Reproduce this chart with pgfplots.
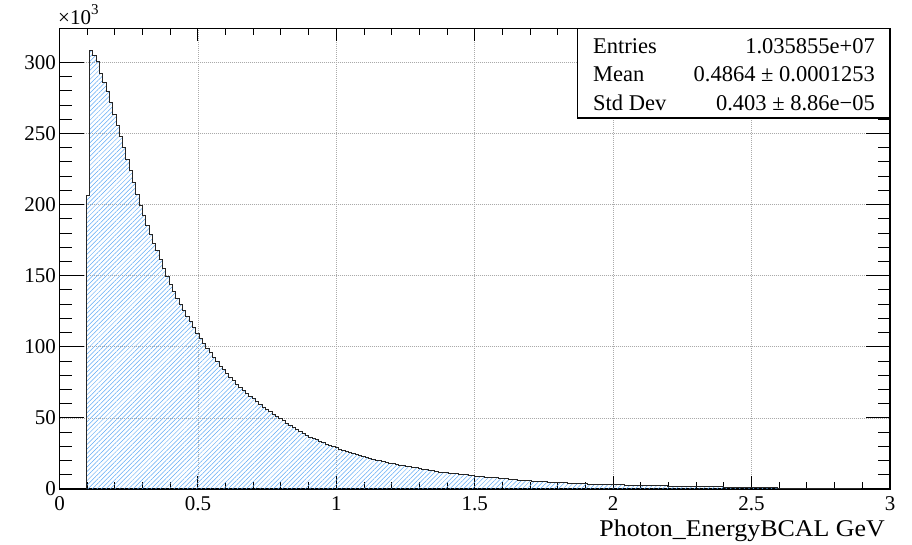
\documentclass[border=0pt]{standalone}
\usepackage{fontspec}
\setmainfont{Liberation Serif}
\usepackage{pgfplots}
\pgfplotsset{compat=1.18}
\usepackage{pgfplotstable}
\usetikzlibrary{patterns.meta}
\definecolor{hatch}{RGB}{95,170,245}
\definecolor{gridc}{RGB}{170,170,170}

% bin contents (x 10^3), bins of width 0.012 GeV starting at 0.096 GeV; last row closes the final bin
\pgfplotstableread{
v
206.5
308.2
305.2
300.5
292.3
285.7
279.4
271.6
263.7
255.9
248.2
240.2
231.8
223.8
215.4
207.4
199.7
192.7
185.6
179.1
172.8
167.6
161.5
155.2
149.8
144.1
138.8
134.1
130.1
125.4
121.2
117.6
113.7
109.5
106.0
102.4
98.9
95.9
92.6
89.5
86.5
84.2
81.3
78.5
76.1
73.8
71.6
69.5
67.4
65.4
63.4
61.5
59.6
57.7
56.0
54.3
52.6
51.0
49.4
47.9
46.3
44.7
43.3
41.8
40.4
39.1
37.8
36.6
35.6
34.5
33.5
32.6
31.6
30.7
29.8
28.9
28.1
27.3
26.5
25.7
24.9
24.2
23.5
22.8
22.2
21.6
21.0
20.4
19.8
19.3
18.7
18.2
17.8
17.3
16.9
16.5
16.1
15.7
15.3
14.9
14.4
14.0
13.5
13.1
12.7
12.3
11.9
11.6
11.35
11.1
10.85
10.6
10.4
10.15
9.9
9.6
9.35
9.1
8.9
8.65
8.45
8.2
8.0
7.8
7.6
7.4
7.15
6.95
6.7
6.5
6.3
6.1
5.9
5.7
5.55
5.4
5.3
5.2
5.1
4.95
4.85
4.75
4.6
4.45
4.3
4.15
4.0
3.85
3.75
3.65
3.55
3.5
3.45
3.4
3.3
3.25
3.2
3.1
3.05
3.0
2.95
2.9
2.8
2.75
2.7
2.6
2.55
2.5
2.45
2.4
2.35
2.3
2.25
2.2
2.15
2.1
2.05
2.0
1.95
1.9
1.87
1.83
1.79
1.75
1.71
1.67
1.63
1.59
1.55
1.52
1.49
1.46
1.43
1.39
1.36
1.33
1.29
1.26
1.22
1.19
1.16
1.12
1.08
1.04
0.98
0.92
0.85
0.79
0.73
0.68
0.63
0.59
0.55
0.52
0.49
0.46
0.44
0.42
0.40
0.38
0.36
0.35
0.33
0.32
0.30
0.29
0.28
0.27
0.26
0.25
0.24
0.23
0.22
0.22
}\histdata

\begin{document}
\begin{tikzpicture}[x=1pt,y=1pt]
\useasboundingbox (0,0) rectangle (912,545);
\begin{axis}[
  at={(59.5pt,56pt)}, anchor=south west,
  scale only axis, width=830.5pt, height=460.7pt,
  xmin=0, xmax=3, ymin=0, ymax=324,
  xtick={0,0.5,1,1.5,2,2.5,3},
  ytick={0,50,100,150,200,250,300},
  xticklabels={0,0.5,1,1.5,2,2.5,3},
  minor x tick num=4, minor y tick num=4,
  grid=major,
  major grid style={gridc, dash pattern=on 1pt off 1pt, line width=0.8pt},
  tick align=inside,
  axis line style={line width=1.1pt},
  every tick/.style={black, line width=1pt},
  major tick length=24pt, minor tick length=12pt,
  xtick style={/pgfplots/major tick length=13pt, /pgfplots/minor tick length=7pt},
  /pgf/number format/assume math mode=true,
  ticklabel style={font=\fontsize{21}{21}\selectfont},
  xticklabel style={inner sep=1pt, yshift=-6pt},
  xlabel={\scalebox{1.08}[1]{Photon\_EnergyBCAL GeV}},
  xlabel style={at={(axis description cs:1,0)}, anchor=base east, xshift=-5pt, yshift=-48pt,
    font=\fontsize{24}{24}\selectfont, inner sep=0pt},
]
\addplot[const plot mark left, draw=black!85, line width=0.9pt,
  pattern={Lines[angle=45, distance=3.2pt, line width=0.5pt]}, pattern color=hatch]
  table[x expr=0.096+0.012*\coordindex, y=v]{\histdata} \closedcycle;
\end{axis}
% multiplier
\node[anchor=base west, inner sep=0pt, font=\fontsize{21}{21}\selectfont] at (58,520)
  {×10\raisebox{0.5em}{\fontsize{15}{15}\selectfont 3}};
% statistics box
\draw[fill=white, line width=1.1pt] (577.3,427) rectangle (890,516.7);
\begin{scope}[every node/.style={inner sep=0pt, font=\fontsize{22.5}{22.5}\selectfont}]
\node[anchor=base west] at (593,491.5) {Entries};
\node[anchor=base east] at (875,491.5) {1.035855e+07};
\node[anchor=base west] at (593,463) {Mean};
\node[anchor=base east] at (875,463) {0.4864 ± 0.0001253};
\node[anchor=base west] at (593,434.5) {Std Dev};
\node[anchor=base east] at (875,434.5) {0.403 ± 8.86e−05};
\end{scope}
\end{tikzpicture}
\end{document}
